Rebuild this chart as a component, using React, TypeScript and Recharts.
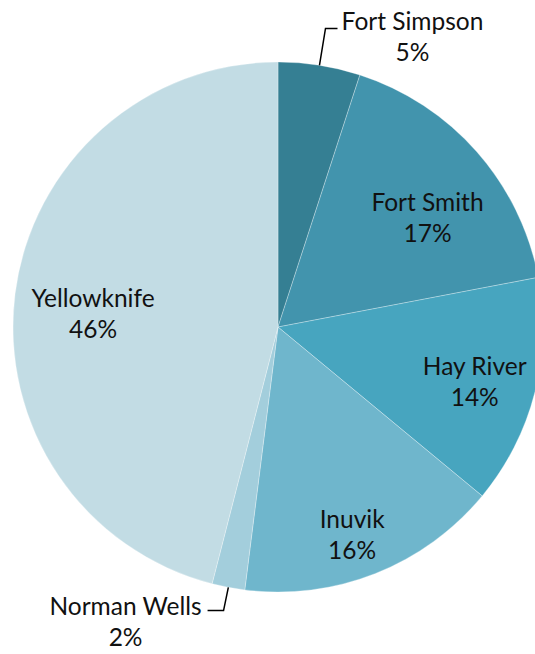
import { Cell, Pie, PieChart } from 'recharts'

const communities = ['Fort Simpson', 'Fort Smith', 'Hay River', 'Inuvik', 'Norman Wells', 'Yellowknife']
const shares = [5, 17, 14, 16, 2, 46]
const sliceColors = ['#357f93', '#4294ad', '#47a5bf', '#6fb6cc', '#a3cedc', '#c2dce4']

const data = communities.map((name, i) => ({ name, value: shares[i] }))

const RAD = Math.PI / 180
const FONT = 'Lato, "Open Sans", sans-serif'

// per-slice label placement: radius factor and angle nudge (degrees, clockwise)
const labelRadius = [1.21, 0.7, 0.77, 0.83, 1.25, 0.7]
const labelShift = [15.8, 5.1, 1, 1.9, 16.6, -3]

// leader lines for the outside labels: [end dx, end dy, bend dx] from label anchor
const leaders: Record<number, [number, number, number]> = {
  0: [-75, -7.5, -12],
  4: [82, -10.5, 16],
}

function renderLabel(props: any) {
  const { cx, cy, midAngle, outerRadius, index, name, value } = props
  // recharts angle: ccw from 3 o'clock -> convert to cw from 12 o'clock
  const clock = 90 - midAngle
  const a = (clock + labelShift[index]) * RAD
  const r = outerRadius * labelRadius[index]
  const x = cx + r * Math.sin(a)
  const y = cy - r * Math.cos(a)

  let leader = null
  if (leaders[index]) {
    const [ex, ey, bx] = leaders[index]
    const sx = cx + outerRadius * Math.sin(clock * RAD)
    const sy = cy - outerRadius * Math.cos(clock * RAD)
    const endX = x + ex
    const endY = y + ey
    leader = (
      <polyline
        points={`${sx},${sy} ${endX + bx},${endY} ${endX},${endY}`}
        fill="none"
        stroke="#000"
        strokeWidth={1.5}
      />
    )
  }

  return (
    <g key={`lbl-${index}`}>
      {leader}
      <text x={x} y={y} textAnchor="middle" fill="#111" fontFamily={FONT} fontSize={24.5}>
        <tspan x={x} y={y - 15.5} dominantBaseline="central">{name}</tspan>
        <tspan x={x} y={y + 15.5} dominantBaseline="central">{value}%</tspan>
      </text>
    </g>
  )
}

export default function App() {
  return (
    <div style={{ position: 'absolute', left: 0, top: 0, width: 535, height: 654, background: '#fff' }}>
      <PieChart width={535} height={654} margin={{ top: 0, right: 0, bottom: 0, left: 0 }}>
        <Pie
          data={data}
          dataKey="value"
          nameKey="name"
          cx={278}
          cy={327}
          outerRadius={265}
          startAngle={90}
          endAngle={-270}
          stroke="#ffffff"
          strokeWidth={0.3}
          label={renderLabel}
          labelLine={false}
          isAnimationActive={false}
        >
          {data.map((d, i) => (
            <Cell key={d.name} fill={sliceColors[i]} />
          ))}
        </Pie>
      </PieChart>
    </div>
  )
}
